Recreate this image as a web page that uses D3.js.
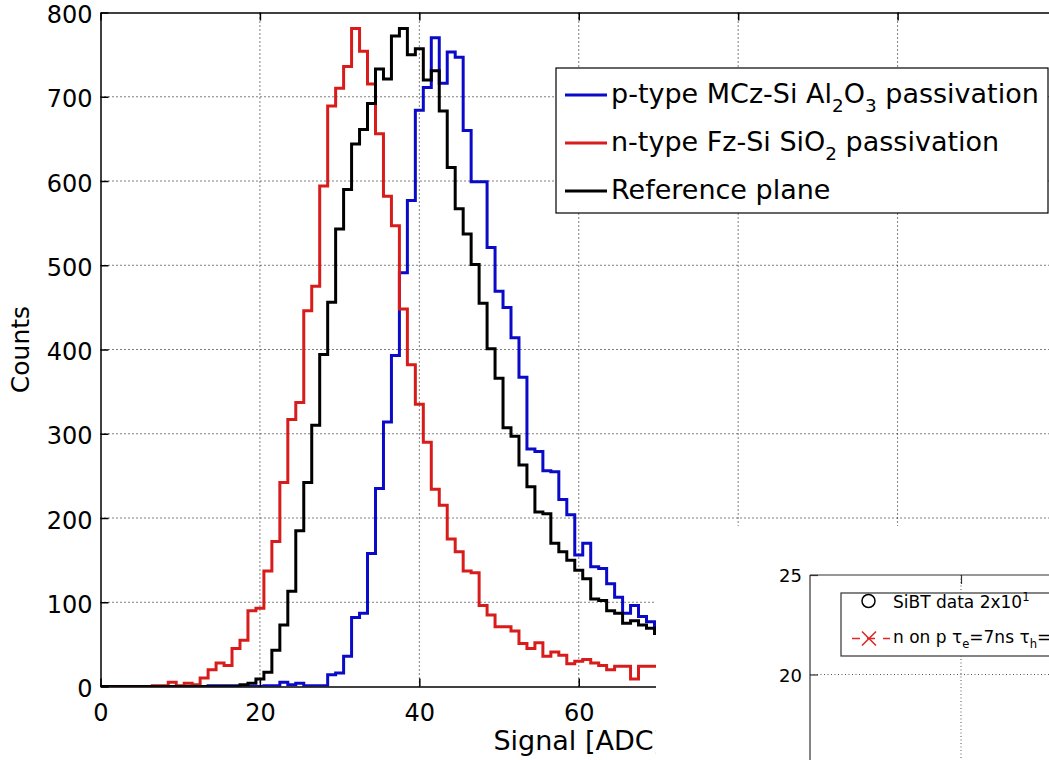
<!DOCTYPE html>
<html>
<head>
<meta charset="utf-8">
<script src="https://cdn.jsdelivr.net/npm/d3@7"></script>
<style>
  html, body { margin: 0; padding: 0; background: #fff; }
  svg { display: block; font-family: "DejaVu Sans", sans-serif; }
</style>
</head>
<body>
<svg id="chart" width="1049" height="760"></svg>
<script>
// Histogram bins: one bin per ADC count, centred on integers 0..70
const binCenters = d3.range(0, 71);

// Counts per bin
const pTypeCounts = [
  0, 0, 0, 0, 0, 0, 0, 0, 0, 0,
  0, 0, 0, 0, 1, 1, 1, 1, 0, 0,
  0, 1, 1, 5, 2, 4, 1, 1, 1, 14,
  16, 36, 82, 87, 158, 235, 314, 393, 491, 577,
  684, 711, 770, 716, 753, 747, 660, 599, 599, 521,
  469, 450, 414, 367, 282, 279, 256, 255, 222, 204,
  156, 170, 142, 140, 122, 106, 87, 96, 83, 77,
  72
];
const nTypeCounts = [
  0, 0, 0, 0, 0, 0, 0, 1, 1, 5,
  1, 4, 2, 10, 20, 28, 25, 45, 55, 90,
  93, 137, 172, 242, 317, 337, 446, 475, 594, 689,
  710, 736, 781, 754, 715, 656, 582, 547, 448, 382,
  335, 290, 234, 215, 175, 160, 137, 135, 96, 85,
  71, 71, 66, 51, 45, 52, 36, 41, 37, 27,
  30, 32, 28, 25, 20, 24, 24, 9, 24, 24,
  24
];
const refCounts = [
  0, 0, 0, 0, 0, 0, 0, 0, 0, 0,
  0, 0, 0, 0, 0, 0, 0, 0, 2, 4,
  9, 17, 43, 73, 113, 185, 242, 310, 394, 456,
  543, 590, 644, 661, 692, 733, 721, 772, 781, 750,
  757, 720, 731, 683, 616, 567, 537, 501, 455, 401,
  366, 307, 297, 263, 237, 207, 205, 170, 160, 150,
  138, 128, 104, 102, 90, 87, 75, 78, 73, 69,
  63
];

const xTicks = [0, 20, 40, 60, 80, 100, 120];
const yTicks = [0, 100, 200, 300, 400, 500, 600, 700, 800];

// Legend entries (order as drawn in the figure); "_x" marks a subscript
const seriesNames = [
  'p-type MCz-Si Al_2O_3 passivation',
  'n-type Fz-Si SiO_2 passivation',
  'Reference plane'
];
const seriesColors = ['#0a0ac8', '#d81c1c', '#000000'];

// Second (partly hidden) figure pasted over the lower right corner
const insetYTicks = [20, 25];
const insetXTicks = [1];
const insetNames = ['SiBT data 2x10^1', 'n on p \u03c4_e=7ns \u03c4_h='];

const svg = d3.select('#chart');

// Main axes geometry
const x = d3.scaleLinear().domain([0, 120]).range([100.5, 1057]);
const y = d3.scaleLinear().domain([0, 800]).range([686.5, 12.5]);

svg.append('defs').append('clipPath')
  .attr('id', 'plotClip')
  .append('rect')
  .attr('x', x(0)).attr('y', y(800))
  .attr('width', x(120) - x(0)).attr('height', y(0) - y(800));

// Append text with _sub and ^sup markers as tspans
function richText(textSel, str, size) {
  const parts = str.split(/([_^].)/).filter(s => s.length);
  let shift = 0;
  parts.forEach(p => {
    const t = textSel.append('tspan');
    if (p[0] === '_' || p[0] === '^') {
      const d = p[0] === '_' ? size * 0.32 : -size * 0.4;
      t.attr('dy', d - shift).attr('font-size', size * 0.68).text(p[1]);
      shift = d;
    } else {
      t.attr('dy', -shift).text(p);
      shift = 0;
    }
  });
}

// Grid lines (dotted)
const grid = svg.append('g').attr('stroke', '#000').attr('stroke-width', 1)
  .attr('stroke-dasharray', '1,3');
grid.selectAll('.gy').data(yTicks.filter(v => v > 0 && v < 800)).join('line')
  .attr('x1', x(0)).attr('x2', x(120))
  .attr('y1', d => y(d)).attr('y2', d => y(d));
grid.selectAll('.gx').data(xTicks.filter(v => v > 0 && v < 120)).join('line')
  .attr('y1', y(0)).attr('y2', y(800))
  .attr('x1', d => x(d)).attr('x2', d => x(d));

// Histogram outlines as stairs
const stairs = d3.line()
  .x(d => x(d[0])).y(d => y(d[1]))
  .curve(d3.curveStepAfter);

function stairPoints(counts) {
  const pts = counts.map((v, i) => [binCenters[i] - 0.5, v]);
  const last = counts.length - 1;
  pts.push([binCenters[last] + 0.5, counts[last]]);
  return pts;
}

const allSeries = [pTypeCounts, nTypeCounts, refCounts];
svg.append('g').attr('clip-path', 'url(#plotClip)')
  .selectAll('path').data(allSeries).join('path')
  .attr('d', d => stairs(stairPoints(d)))
  .attr('fill', 'none')
  .attr('stroke', (d, i) => seriesColors[i])
  .attr('stroke-width', 3)
  .attr('stroke-linejoin', 'miter');

// Axes with inward ticks
const yAxis = svg.append('g')
  .attr('transform', `translate(${x(0)},0)`)
  .call(d3.axisLeft(y).tickValues(yTicks).tickSize(-8).tickSizeOuter(0).tickPadding(8));
const xAxis = svg.append('g')
  .attr('transform', `translate(0,${y(0)})`)
  .call(d3.axisBottom(x).tickValues(xTicks).tickSize(-8).tickSizeOuter(0).tickPadding(17));
const xTop = svg.append('g')
  .attr('transform', `translate(0,${y(800)})`)
  .call(d3.axisTop(x).tickValues(xTicks).tickSize(-8).tickSizeOuter(0).tickFormat(''));

[yAxis, xAxis, xTop].forEach(a => {
  a.select('.domain').attr('stroke', '#000').attr('stroke-width', 1.5);
  a.selectAll('.tick line').attr('stroke', '#000').attr('stroke-width', 1.5);
  a.selectAll('.tick text').attr('fill', '#000')
    .attr('font-family', '"DejaVu Sans", sans-serif').attr('font-size', 24);
});
yAxis.selectAll('.tick text').attr('dy', '0.42em');

// Axis titles
svg.append('text')
  .attr('x', (x(0) + x(120)) / 2).attr('y', 750)
  .attr('text-anchor', 'middle').attr('font-size', 27)
  .text('Signal [ADC]');
svg.append('text')
  .attr('transform', `translate(29,${(y(0) + y(800)) / 2}) rotate(-90)`)
  .attr('text-anchor', 'middle').attr('font-size', 25)
  .text('Counts');

// Legend
const legend = svg.append('g');
legend.append('rect')
  .attr('x', 556).attr('y', 68).attr('width', 492).attr('height', 145)
  .attr('fill', '#fff').attr('stroke', '#000').attr('stroke-width', 1.2);
seriesNames.forEach((name, i) => {
  const ly = 95 + i * 48;
  legend.append('line')
    .attr('x1', 565).attr('x2', 607).attr('y1', ly).attr('y2', ly)
    .attr('stroke', seriesColors[i]).attr('stroke-width', 3);
  const t = legend.append('text')
    .attr('x', 611).attr('y', ly + 8)
    .attr('font-size', 27).attr('fill', '#000');
  richText(t, name, 27);
});

// ---- Second figure covering the lower right corner ----
const inset = svg.append('g');
inset.append('rect')
  .attr('x', 656).attr('y', 526).attr('width', 1049 - 656).attr('height', 760 - 526)
  .attr('fill', '#fff');

const xIn = d3.scaleLinear().domain([0, 1]).range([810, 961]);
const yIn = d3.scaleLinear().domain([20, 25]).range([674.5, 575]);

const insetGrid = inset.append('g').attr('stroke', '#555').attr('stroke-width', 1)
  .attr('stroke-dasharray', '1,2.5');
insetGrid.selectAll('line.h').data(insetYTicks.filter(v => v < 25)).join('line')
  .attr('x1', xIn(0)).attr('x2', 1049)
  .attr('y1', d => yIn(d)).attr('y2', d => yIn(d));
insetGrid.selectAll('line.v').data(insetXTicks).join('line')
  .attr('x1', d => xIn(d)).attr('x2', d => xIn(d))
  .attr('y1', yIn(25)).attr('y2', 760);

const yInAxis = inset.append('g')
  .attr('transform', `translate(${xIn(0)},0)`)
  .call(d3.axisLeft(yIn).tickValues(insetYTicks).tickFormat(d3.format('d'))
    .tickSize(-8).tickSizeOuter(0).tickPadding(8));
yInAxis.select('.domain').attr('d', `M0,${yIn(25)}V760`);
const xInTop = inset.append('g')
  .attr('transform', `translate(0,${yIn(25)})`)
  .call(d3.axisTop(xIn).tickValues(insetXTicks).tickSize(-9).tickSizeOuter(0).tickFormat(''));
xInTop.select('.domain').attr('d', `M${xIn(0)},0H1049`);

[yInAxis, xInTop].forEach(a => {
  a.select('.domain').attr('stroke', '#333').attr('stroke-width', 1.2);
  a.selectAll('.tick line').attr('stroke', '#333').attr('stroke-width', 1.2);
  a.selectAll('.tick text').attr('fill', '#000')
    .attr('font-family', '"DejaVu Sans", sans-serif').attr('font-size', 18)
    .attr('dy', '0.38em');
});

// Inset legend
inset.append('rect')
  .attr('x', 841).attr('y', 593).attr('width', 260).attr('height', 63)
  .attr('fill', '#fff').attr('stroke', '#333').attr('stroke-width', 1.2);
inset.append('circle')
  .attr('cx', 868.5).attr('cy', 601).attr('r', 6.5)
  .attr('fill', 'none').attr('stroke', '#000').attr('stroke-width', 1.5);
inset.append('line')
  .attr('x1', 852).attr('x2', 890).attr('y1', 638.5).attr('y2', 638.5)
  .attr('stroke', '#e02828').attr('stroke-width', 1.5).attr('stroke-dasharray', '8,7,8');
inset.append('path')
  .attr('d', 'M862,631.5L876,645.5M876,631.5L862,645.5')
  .attr('stroke', '#e02828').attr('stroke-width', 1.6);
insetNames.forEach((name, i) => {
  const t = inset.append('text')
    .attr('x', 893).attr('y', 608 + i * 35)
    .attr('font-size', 17).attr('fill', '#000');
  richText(t, name, 17);
});
</script>
</body>
</html>
